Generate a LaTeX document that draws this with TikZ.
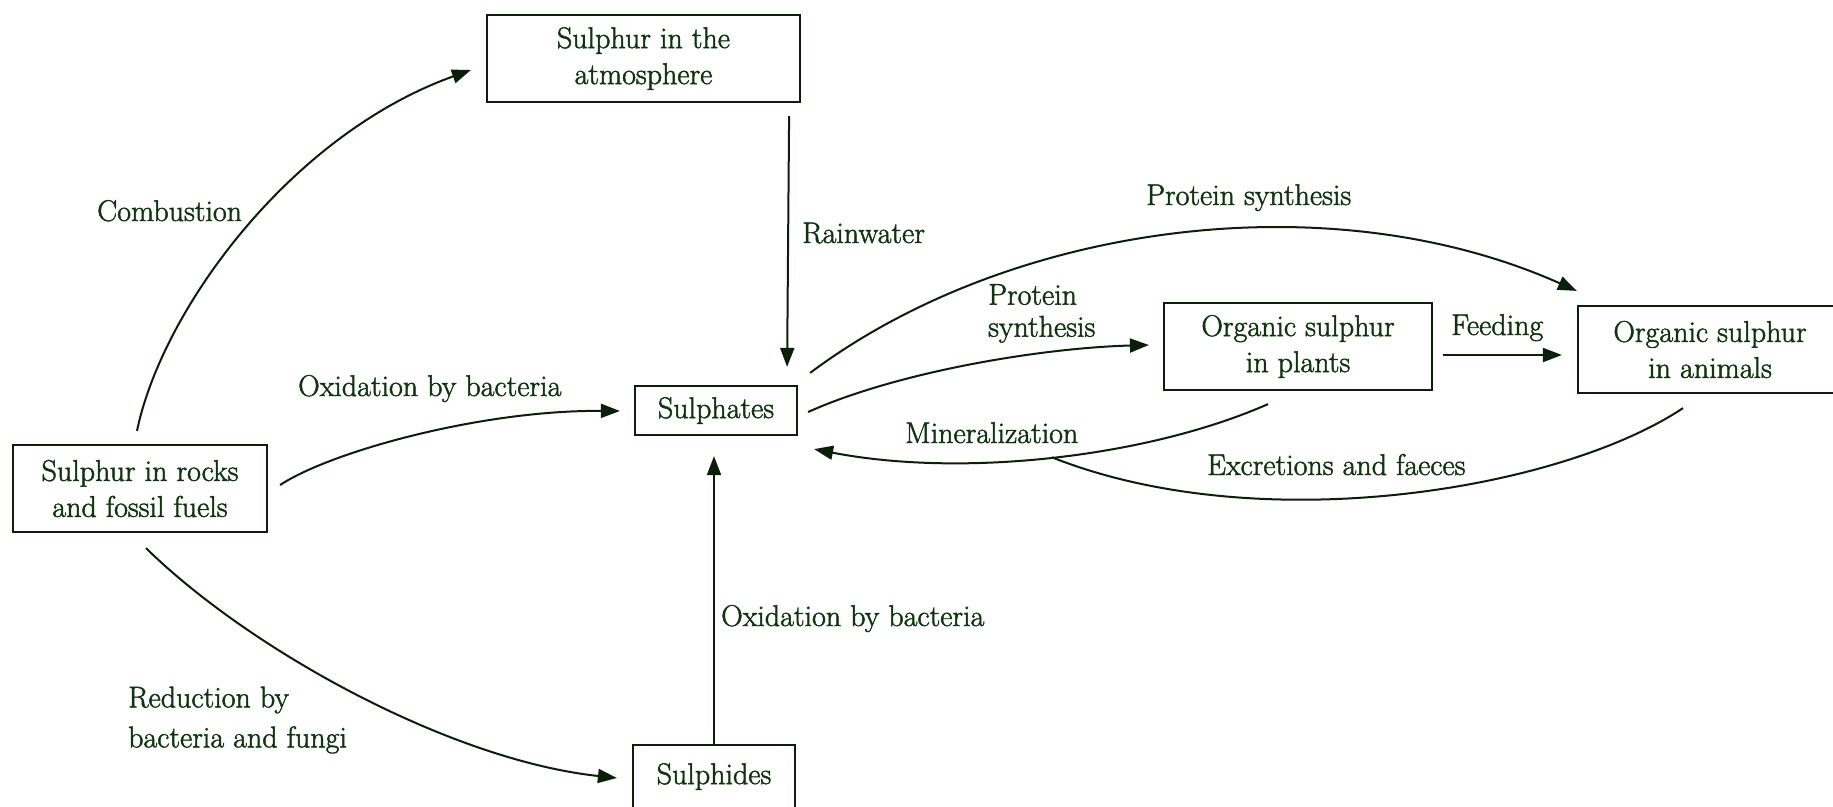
\documentclass[tikz,border=0pt]{standalone}
\usepackage{fontspec}
\setmainfont{Latin Modern Roman}[FakeBold=1.6]
\usetikzlibrary{arrows.meta,calc}
\definecolor{txtg}{RGB}{16,52,16}
\definecolor{lineg}{RGB}{10,30,10}
\begin{document}
\begin{tikzpicture}[x=1pt,y=-1pt,
  box/.style={draw=lineg,line width=2.2pt,inner sep=0pt,align=center,text=txtg,font=\fontsize{30}{36}\selectfont},
  lbl/.style={text=txtg,font=\fontsize{30}{34}\selectfont,inner sep=0pt},
  arr/.style={draw=lineg,line width=2pt,-{Triangle[length=19pt,width=14pt]}},
  ln/.style={draw=lineg,line width=2pt}]
\useasboundingbox[fill=white] (0,0) rectangle (1833,806);
% boxes
\node[box,minimum width=313pt,minimum height=87pt] (atm) at (643.5,58.5) {Sulphur in the\\atmosphere};
\node[box,minimum width=254pt,minimum height=87pt] (rocks) at (140,488.5) {Sulphur in rocks\\and fossil fuels};
\node[box,minimum width=162pt,minimum height=49pt] (sulphates) at (716,410.5) {Sulphates};
\node[box,minimum width=268pt,minimum height=87pt] (plants) at (1298,346.5) {Organic sulphur\\in plants};
\node[box,minimum width=264pt,minimum height=87pt] (animals) at (1710,349.5) {Organic sulphur\\in animals};
\node[box,minimum width=162pt,minimum height=63pt] (sulphides) at (714,776.5) {Sulphides};
% connectors
\draw[arr] ($(rocks.north)+(-3,-13)$) .. controls (162,310) and (290,135) .. ($(atm.west)+(-15,11.5)$);
\draw[arr] ($(atm.south east)+(-12,13)$) -- ($(sulphates.north east)+(-11,-18)$);
\draw[arr] ($(rocks.east)+(12,-3.5)$) .. controls (330,452) and (480,410) .. ($(sulphates.west)+(-14,0.5)$);
\draw[arr] ($(rocks.south)+(6,15)$) .. controls (250,650) and (450,760) .. ($(sulphides.west)+(-15,1.5)$);
\draw[arr] (sulphides.north) -- ($(sulphates.south)+(-2,20)$);
\draw[arr] ($(sulphates.north east)+(12,-12)$) .. controls (1009,224) and (1328,180) .. ($(animals.north west)+(0,-14)$);
\draw[arr] ($(sulphates.east)+(10,1.5)$) .. controls (897,372) and (1040,348) .. ($(plants.west)+(-14,-1.5)$);
\draw[arr] ($(plants.east)+(10,8.5)$) -- ($(animals.west)+(-15,5.5)$);
\draw[arr] ($(plants.south)+(-30,13)$) .. controls (1148,457) and (963,478) .. coordinate[pos=0.5] (mj) ($(sulphates.south east)+(16,13)$);
\draw[ln] ($(animals.south)+(-27,14)$) .. controls (1560,490) and (1260,540) .. (mj);
% labels
\node[lbl,anchor=base west] (lcomb) at (97,221) {Combustion};
\node[lbl,anchor=base west] (lrain) at (802,243) {Rainwater};
\node[lbl,anchor=base west] (lox1) at (298,396) {Oxidation by bacteria};
\node[lbl,anchor=base west] (lox2) at (721,626) {Oxidation by bacteria};
\node[lbl,anchor=base west] (lps1) at (1146,205) {Protein synthesis};
\node[lbl,anchor=west,align=left,font=\fontsize{30}{32}\selectfont] (lps2) at (988,313.5) {Protein\\synthesis};
\node[lbl,anchor=base west] (lfeed) at (1451,335) {Feeding};
\node[lbl,anchor=base west] (lmin) at (905,443) {Mineralization};
\node[lbl,anchor=base west] (lexc) at (1207,475) {Excretions and faeces};
\node[lbl,anchor=west,align=left,font=\fontsize{30}{40}\selectfont] (lred) at (128,720) {Reduction by\\bacteria and fungi};
\end{tikzpicture}
\end{document}
